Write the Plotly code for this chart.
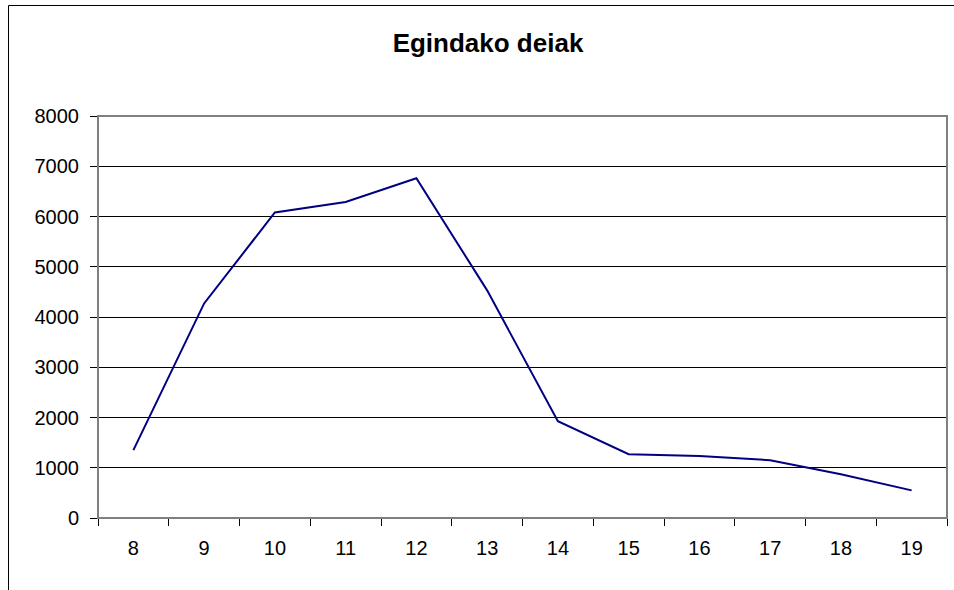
import plotly.graph_objects as go

# hours of the day and number of calls made
hours = ["8", "9", "10", "11", "12", "13", "14", "15", "16", "17", "18", "19"]
calls = [1350, 4270, 6080, 6290, 6760, 4530, 1925, 1270, 1235, 1150, 870, 550]

W, H = 954, 590
L, R, T, B = 98, 7, 116, 72
pw, ph = W - L - R, H - T - B

fig = go.Figure()
fig.add_trace(
    go.Scatter(
        x=hours,
        y=calls,
        mode="lines",
        line=dict(color="#000080", width=2),
        showlegend=False,
    )
)

# plot area border (grey top/right), outer chart frame (black)
fig.add_shape(type="rect", xref="paper", yref="paper", x0=0, x1=1, y0=0, y1=1,
              line=dict(color="#808080", width=2), layer="above")
fig.add_shape(type="rect", xref="paper", yref="paper",
              x0=(8.5 - L) / pw, x1=1.2, y0=-0.5, y1=(H - B - 5.5) / ph,
              line=dict(color="#000000", width=1), layer="below")

fig.update_layout(
    width=W,
    height=H,
    margin=dict(l=L, r=R, t=T, b=B),
    paper_bgcolor="white",
    plot_bgcolor="white",
    font=dict(family="Liberation Sans, Arial", size=20, color="#000000"),
    title=dict(
        text="<b>Egindako deiak</b>",
        xref="container", x=488 / W, xanchor="center",
        yref="container", y=1 - 43 / H, yanchor="middle",
        font=dict(size=26),
    ),
    xaxis=dict(
        type="category",
        range=[-0.5, len(hours) - 0.5],
        showline=True, linecolor="#000000", linewidth=1,
        ticks="outside", tickson="boundaries", ticklen=7, tickcolor="#000000",
        showgrid=False,
        ticklabelstandoff=12,
    ),
    yaxis=dict(
        range=[0, 8000], dtick=1000,
        showline=True, linecolor="#000000", linewidth=1,
        ticks="outside", ticklen=7, tickcolor="#000000",
        showgrid=True, gridcolor="#000000", gridwidth=1,
        zeroline=False,
        ticklabelstandoff=7,
    ),
)

fig.write_html(
    "out.html",
    config={"displayModeBar": False},
    post_script="document.body.style.margin='0';",
)
